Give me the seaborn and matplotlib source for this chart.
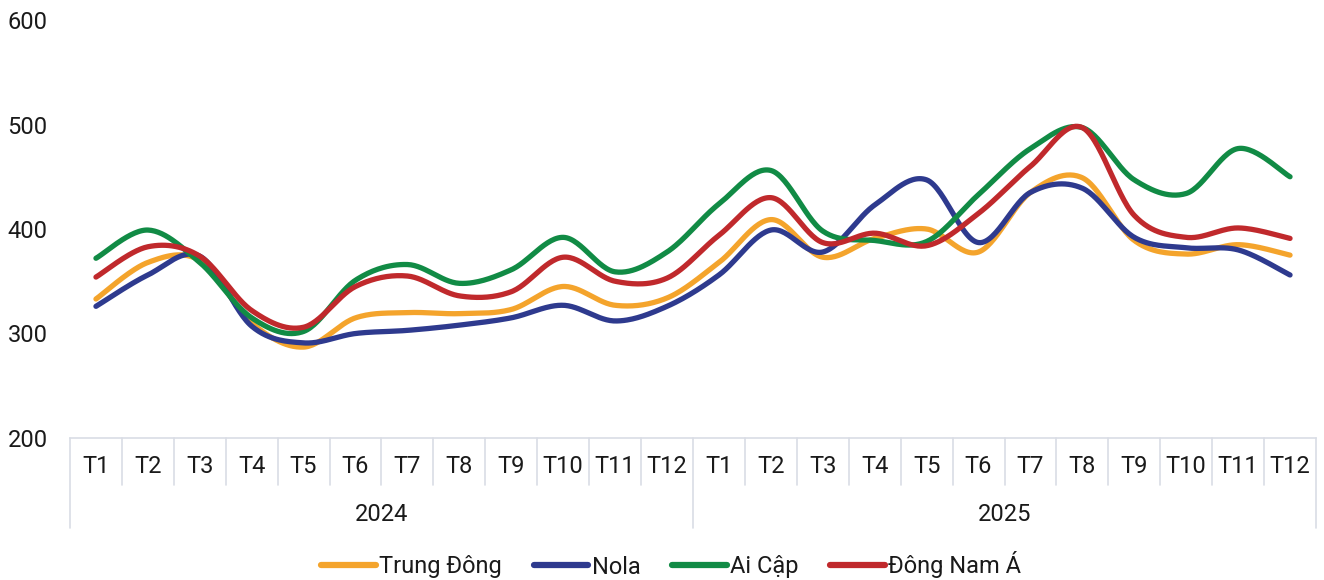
import numpy as np
import pandas as pd
import matplotlib
matplotlib.use("Agg")
import matplotlib.pyplot as plt
import seaborn as sns

# chart data
months = ["T1", "T2", "T3", "T4", "T5", "T6", "T7", "T8", "T9", "T10", "T11", "T12"]
years = ["2024", "2025"]

trung_dong = [333, 368, 370, 310, 287, 315, 320, 319, 323, 345, 327, 334,
              368, 409, 373, 391, 400, 378, 435, 449, 389, 376, 385, 375]
nola = [326, 356, 374, 307, 291, 300, 303, 308, 315, 327, 312, 326,
        356, 399, 378, 423, 447, 387, 435, 439, 392, 382, 380, 356]
ai_cap = [372, 399, 368, 315, 302, 351, 366, 348, 361, 392, 359, 378,
          424, 456, 398, 389, 388, 433, 477, 497, 447, 434, 477, 450]
dong_nam_a = [354, 383, 374, 322, 306, 345, 355, 336, 340, 373, 350, 353,
              394, 430, 387, 396, 384, 415, 460, 497, 413, 392, 401, 391]

series_names = ["Trung Đông", "Nola", "Ai Cập", "Đông Nam Á"]
series_values = [trung_dong, nola, ai_cap, dong_nam_a]
colors = ["#F4A42C", "#2E3A8E", "#118B45", "#C0292C"]


def smooth(y, steps=30):
    # Catmull-Rom style curve through every point (like Excel "smoothed line")
    y = np.asarray(y, dtype=float)
    x = np.arange(len(y), dtype=float)
    px = np.concatenate([[x[0]], x, [x[-1]]])
    py = np.concatenate([[y[0]], y, [y[-1]]])
    xs, ys = [], []
    for i in range(1, len(px) - 2):
        t = np.linspace(0, 1, steps, endpoint=False)
        for p, out in ((px, xs), (py, ys)):
            p0, p1, p2, p3 = p[i - 1], p[i], p[i + 1], p[i + 2]
            c1 = p1 + (p2 - p0) / 6
            c2 = p2 - (p3 - p1) / 6
            out.extend((1 - t) ** 3 * p1 + 3 * (1 - t) ** 2 * t * c1
                       + 3 * (1 - t) * t ** 2 * c2 + t ** 3 * p2)
    xs.append(x[-1])
    ys.append(y[-1])
    return np.array(xs), np.array(ys)


frames = []
for name, vals in zip(series_names, series_values):
    sx, sy = smooth(vals)
    frames.append(pd.DataFrame({"x": sx, "value": sy, "series": name}))
df = pd.concat(frames, ignore_index=True)

sns.set_theme(style="white")
plt.rcParams["font.family"] = ["Roboto", "DejaVu Sans"]

FS = 17
txt_col = "#1A1A1A"

fig = plt.figure(figsize=(13.24, 5.8), dpi=100)
ax = fig.add_axes([70 / 1324, 1 - 438 / 580, 1246 / 1324, 418 / 580])

sns.lineplot(data=df, x="x", y="value", hue="series", hue_order=series_names,
             palette=colors, linewidth=3.8, ax=ax, legend=False, sort=False,
             estimator=None, solid_capstyle="round")

n = len(months) * len(years)
ax.set_xlim(-0.5, n - 0.5)
ax.set_ylim(200, 600)
ax.set_yticks([200, 300, 400, 500, 600])
ax.tick_params(axis="y", length=0, labelsize=FS, pad=16, colors=txt_col)
ax.set_xticks([])
ax.set_xlabel("")
ax.set_ylabel("")
for s in ["top", "right", "left"]:
    ax.spines[s].set_visible(False)
ax.spines["bottom"].set_color("#D9DDE5")
ax.spines["bottom"].set_linewidth(1.2)

trans = ax.get_xaxis_transform()
grid_col = "#D9DDE5"
for i in range(n + 1):
    xb = i - 0.5
    long = i % len(months) == 0
    ax.plot([xb, xb], [0, -0.215 if long else -0.112], transform=trans,
            color=grid_col, lw=1.2, clip_on=False)
for i in range(n):
    ax.text(i, -0.069, months[i % len(months)], transform=trans,
            ha="center", va="center", fontsize=FS, color=txt_col)
for j, yr in enumerate(years):
    ax.text(j * len(months) + (len(months) - 1) / 2, -0.184, yr, transform=trans,
            ha="center", va="center", fontsize=FS, color=txt_col)

handles = [plt.Line2D([], [], color=c, lw=4.5, solid_capstyle="round") for c in colors]
leg = fig.legend(handles, series_names, loc="center", bbox_to_anchor=(0.507, 1 - 565 / 580),
                 ncol=4, frameon=False, fontsize=FS, handlelength=2.3,
                 handletextpad=0.15, columnspacing=1.35)
for t in leg.get_texts():
    t.set_color(txt_col)

fig.savefig("out.png", dpi=100)
